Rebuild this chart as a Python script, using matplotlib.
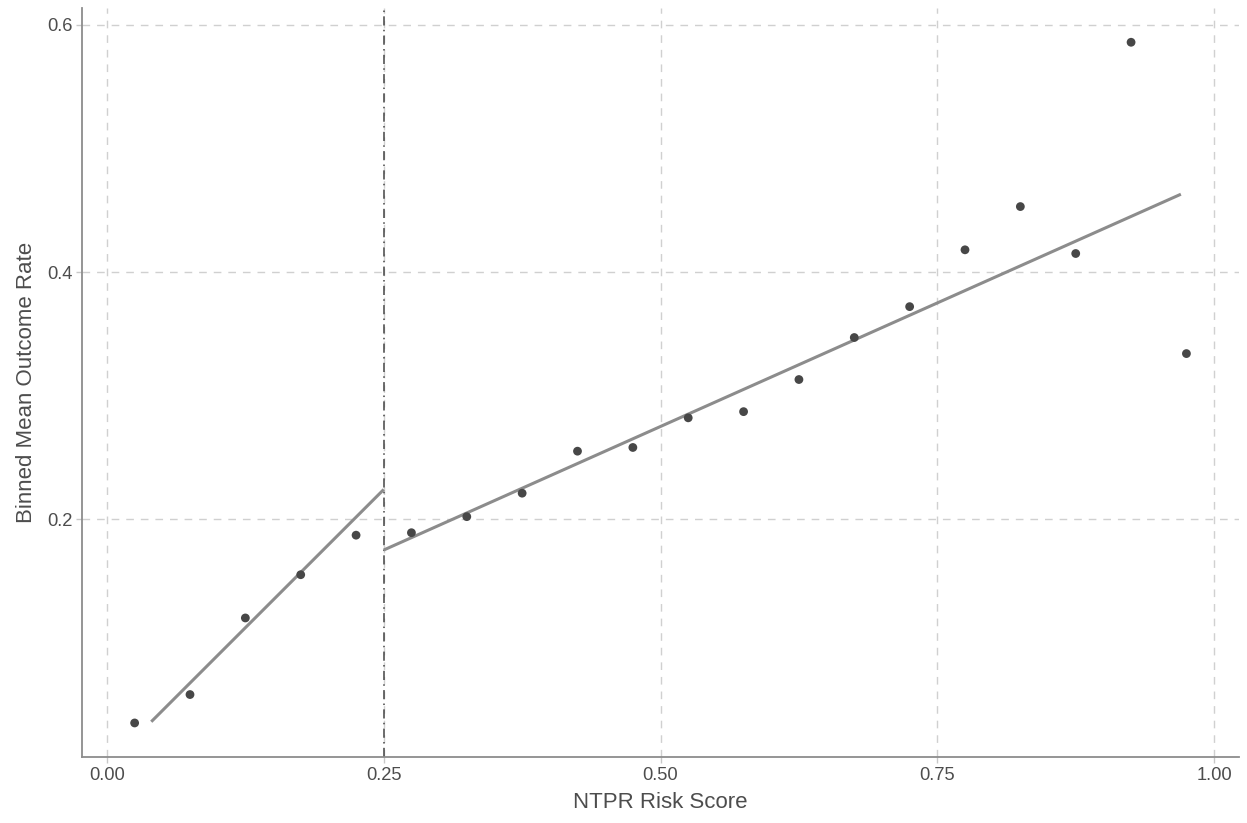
import numpy as np
import matplotlib.pyplot as plt

plt.rcParams['font.family'] = ['Liberation Sans', 'DejaVu Sans']

# Datos: medias por intervalo
bin_centers = [0.025, 0.075, 0.125, 0.175, 0.225, 0.275, 0.325, 0.375, 0.425, 0.475,
               0.525, 0.575, 0.625, 0.675, 0.725, 0.775, 0.825, 0.875, 0.925, 0.975]
outcome_rate = [0.035, 0.058, 0.120, 0.155, 0.187, 0.189, 0.202, 0.221, 0.255, 0.258,
                0.282, 0.287, 0.313, 0.347, 0.372, 0.418, 0.453, 0.415, 0.586, 0.334]

# Rectas ajustadas a cada lado del umbral
cutoff = 0.25
fit_left_x = [0.04, 0.25]
fit_left_y = [0.036, 0.224]
fit_right_x = [0.25, 0.97]
fit_right_y = [0.175, 0.463]

fig = plt.figure(figsize=(12.47, 8.23), dpi=100)
ax = fig.add_axes([0.0658, 0.0802, 0.9278, 0.9098])

ax.plot(fit_left_x, fit_left_y, color='#8c8c8c', lw=2.2, solid_capstyle='butt', zorder=3)
ax.plot(fit_right_x, fit_right_y, color='#8c8c8c', lw=2.2, solid_capstyle='butt', zorder=3)
ax.scatter(bin_centers, outcome_rate, s=40, color='#474747', edgecolors='none', zorder=4)
ax.axvline(cutoff, color='#444444', lw=1.1, ls=(0, (6, 2.8, 1, 2.8)), zorder=2)

# Limites con expansion del 5%
xr = max(bin_centers) - min(bin_centers)
yr = max(outcome_rate) - min(outcome_rate)
ax.set_xlim(min(bin_centers) - 0.05 * xr, max(bin_centers) + 0.05 * xr)
ax.set_ylim(min(outcome_rate) - 0.05 * yr, max(outcome_rate) + 0.05 * yr)

ax.set_xticks([0.0, 0.25, 0.5, 0.75, 1.0])
ax.set_xticklabels(['0.00', '0.25', '0.50', '0.75', '1.00'])
ax.set_yticks([0.2, 0.4, 0.6])
ax.set_yticklabels(['0.2', '0.4', '0.6'])

ax.grid(True, color='#d0d0d0', ls=(0, (5.5, 5)), lw=1.0)
ax.set_axisbelow(True)
for s in ['top', 'right']:
    ax.spines[s].set_visible(False)
for s in ['left', 'bottom']:
    ax.spines[s].set_color('#8c8c8c')
    ax.spines[s].set_linewidth(1.3)
ax.tick_params(colors='#c8c8c8', length=4, width=1.0, labelsize=13.2,
               labelcolor='#4d4d4d', pad=3)

ax.set_xlabel('NTPR Risk Score', fontsize=16, color='#4d4d4d', labelpad=6)
ax.set_ylabel('Binned Mean Outcome Rate', fontsize=16, color='#4d4d4d', labelpad=7)

fig.savefig('out.png', dpi=100)
